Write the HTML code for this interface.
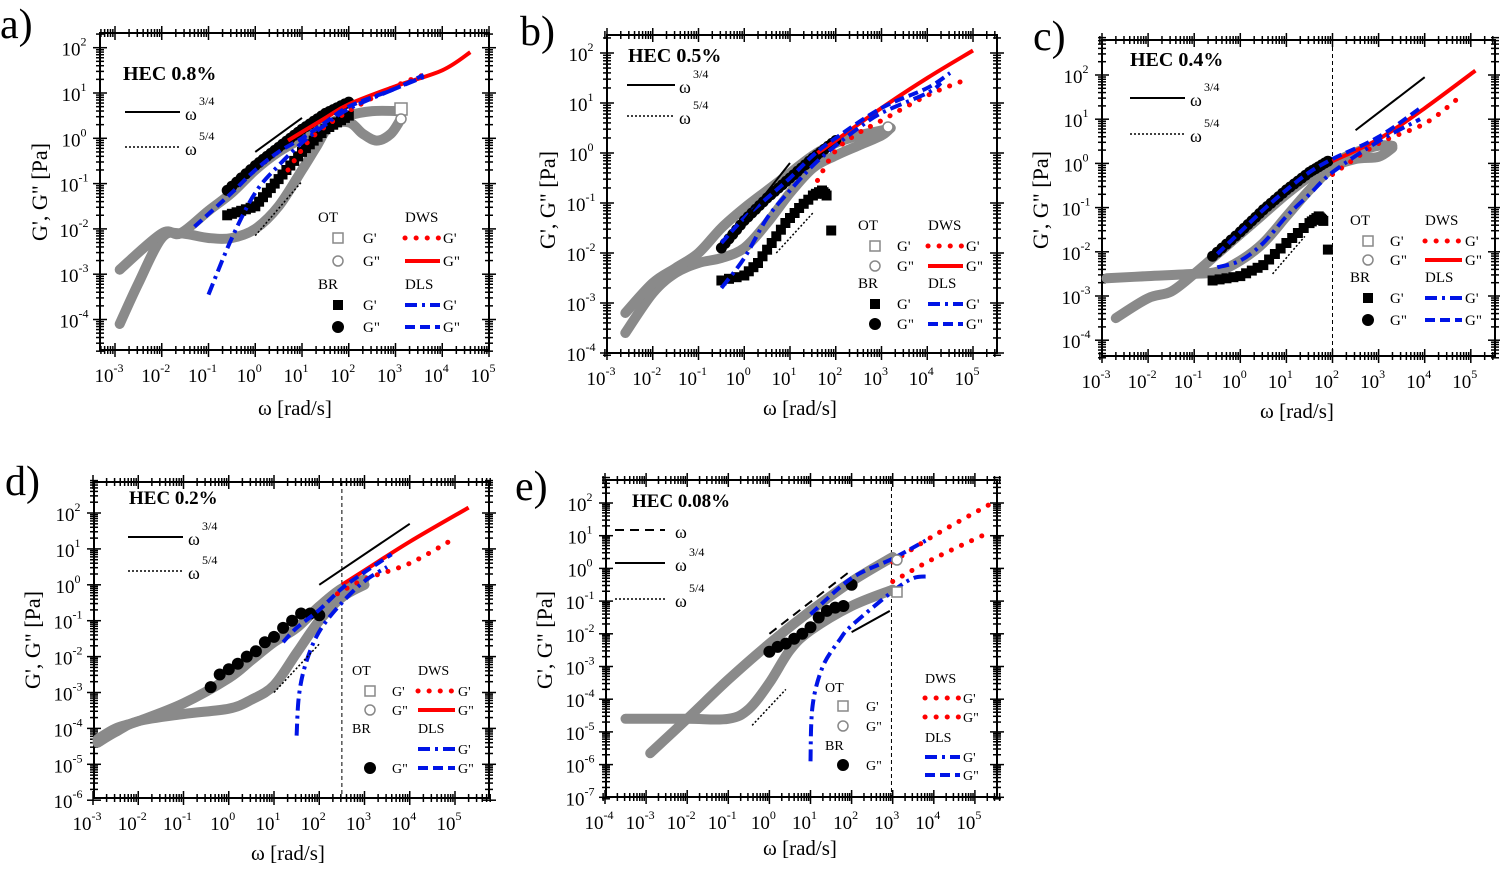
<!DOCTYPE html>
<html><head><meta charset="utf-8">
<style>
html,body{margin:0;padding:0;background:#fff;}
svg{display:block;}
text{font-family:"Liberation Serif","Times New Roman","DejaVu Serif",serif;}
</style></head>
<body>
<svg id="s" width="1500" height="869" viewBox="0 0 1500 869" xmlns="http://www.w3.org/2000/svg" font-family="Liberation Serif, DejaVu Serif, serif"></svg>
<script>
var out=[];
var FF='font-family="Liberation Serif, Times New Roman, DejaVu Serif, serif"';
function T(x,y,t,sz,extra){out.push('<text '+FF+' x="'+x+'" y="'+y+'" font-size="'+sz+'" '+(extra||'')+'>'+t+'</text>');}
function L(x1,y1,x2,y2,st){out.push('<line x1="'+x1+'" y1="'+y1+'" x2="'+x2+'" y2="'+y2+'" '+st+'/>');}
function panel(p){
  var X=function(l){return p.X0+(l-p.x0)*p.dx;}, Y=function(l){return p.Y0-(l-p.y0)*p.dy;};
  p.X=X;p.Y=Y;
  out.push('<rect x="'+p.L+'" y="'+p.T+'" width="'+(p.R-p.L)+'" height="'+(p.B-p.T)+'" fill="none" stroke="#000" stroke-width="2"/>');
  var st='stroke="#000" stroke-width="1.5"';
  var d0=Math.floor(p.x0+(p.L-p.X0)/p.dx)-1, d1=Math.ceil(p.x0+(p.R-p.X0)/p.dx)+1;
  for(var d=d0;d<=d1;d++){for(var k=1;k<10;k++){var x=X(d+Math.log10(k));if(x<p.L-3||x>p.R+3)continue;var m=k==1?7:4;
    L(x,p.B-m,x,p.B+m,st);L(x,p.T-m,x,p.T+m,st);
    if(k==1){T(x-6,p.B+32,'10<tspan font-size="12" dy="-10">'+d+'</tspan>',19,'text-anchor="middle"');}}}
  var e0=Math.floor(p.y0-(p.B-p.Y0)/p.dy)-1, e1=Math.ceil(p.y0+(p.Y0-p.T)/p.dy)+1;
  for(var d=e0;d<=e1;d++){for(var k=1;k<10;k++){var y=Y(d+Math.log10(k));if(y<p.T-3||y>p.B+3)continue;var m=k==1?7:4;
    L(p.L-m,y,p.L+m,y,st);L(p.R-m,y,p.R+m,y,st);
    if(k==1){T(p.L-26,y+8,'10<tspan font-size="12" dy="-10">'+d+'</tspan>',19,'text-anchor="middle"');}}}
  if(p.vline!=null)L(X(p.vline),p.T,X(p.vline),p.B,'stroke="#000" stroke-width="1" stroke-dasharray="4,3"');
}
function smooth(p,a){
  var P=a.map(function(q){return [p.X(q[0]),p.Y(q[1])];});
  var d='M'+P[0][0].toFixed(1)+','+P[0][1].toFixed(1);
  for(var i=0;i<P.length-1;i++){
    var p0=P[i-1]||P[i],p1=P[i],p2=P[i+1],p3=P[i+2]||P[i+1];
    var c1=[p1[0]+(p2[0]-p0[0])/6,p1[1]+(p2[1]-p0[1])/6],c2=[p2[0]-(p3[0]-p1[0])/6,p2[1]-(p3[1]-p1[1])/6];
    d+=' C'+c1[0].toFixed(1)+','+c1[1].toFixed(1)+' '+c2[0].toFixed(1)+','+c2[1].toFixed(1)+' '+p2[0].toFixed(1)+','+p2[1].toFixed(1);
  }
  return d;
}
function poly(p,a,st){out.push('<path fill="none" d="'+smooth(p,a)+'" '+st+'/>');}
var GR='stroke="#8a8a8a" stroke-width="10" stroke-linecap="round" stroke-linejoin="round"';
var RS='stroke="#f00" stroke-width="4"';
var RD='stroke="#f00" stroke-width="5" stroke-linecap="round" stroke-dasharray="0.1,11"';
var BDD='stroke="#0014e6" stroke-width="4" stroke-dasharray="12,5,3,5"';
var BD='stroke="#0014e6" stroke-width="4" stroke-dasharray="10,5"';
function interp(a,n){var r=[];for(var i=0;i<a.length-1;i++){for(var j=0;j<n;j++){var t=j/n;r.push([a[i][0]+(a[i+1][0]-a[i][0])*t,a[i][1]+(a[i+1][1]-a[i][1])*t]);}}r.push(a[a.length-1]);return r;}
function circles(p,a,r,n){interp(a,n).forEach(function(q){out.push('<circle cx="'+p.X(q[0]).toFixed(1)+'" cy="'+p.Y(q[1]).toFixed(1)+'" r="'+r+'" fill="#000"/>');});}
function squares(p,a,s,n){interp(a,n).forEach(function(q){out.push('<rect x="'+(p.X(q[0])-s/2).toFixed(1)+'" y="'+(p.Y(q[1])-s/2).toFixed(1)+'" width="'+s+'" height="'+s+'" fill="#000"/>');});}
function dots(p,a,r){a.forEach(function(q){out.push('<circle cx="'+p.X(q[0]).toFixed(1)+'" cy="'+p.Y(q[1]).toFixed(1)+'" r="'+r+'" fill="#000"/>');});}
function guide(p,a,b,st){L(p.X(a[0]),p.Y(a[1]),p.X(b[0]),p.Y(b[1]),st);}
var GS='stroke="#000" stroke-width="2"', GD='stroke="#000" stroke-width="1.5" stroke-dasharray="2,2"', GDash='stroke="#000" stroke-width="2" stroke-dasharray="9,6"';
function pw(x1,x2,y,st,tx,sup){L(x1,y,x2,y,st);T(tx,y+8,'ω',18);if(sup)T(tx+14,y-7,sup,12);}
function legSym(x,y,type){ if(type=='os')out.push('<rect x="'+(x-5)+'" y="'+(y-5)+'" width="10" height="10" fill="none" stroke="#888" stroke-width="1.5"/>');
 if(type=='oc')out.push('<circle cx="'+x+'" cy="'+y+'" r="5" fill="none" stroke="#888" stroke-width="1.5"/>');
 if(type=='bs')out.push('<rect x="'+(x-5)+'" y="'+(y-5)+'" width="10" height="10" fill="#000"/>');
 if(type=='bc')out.push('<circle cx="'+x+'" cy="'+y+'" r="6" fill="#000"/>');}
function legend(o){
 var s=o.sz||15;
 T(o.ox,o.r[0]-16,'OT',s);T(o.lx,o.r[0]-16,'DWS',s);
 legSym(o.sx,o.r[0],'os');T(o.tx,o.r[0]+5,"G'",s);
 legSym(o.sx,o.r[1],'oc');T(o.tx,o.r[1]+5,'G"',s);
 T(o.ox,o.r[2]-16,'BR',s);T(o.lx,o.r[2]-16,'DLS',s);
 if(o.brBoth){legSym(o.sx,o.r[2],'bs');T(o.tx,o.r[2]+5,"G'",s);}
 legSym(o.sx,o.r[3],'bc');T(o.tx,o.r[3]+5,'G"',s);
 L(o.lx,o.r[0],o.lx2,o.r[0],RD);T(o.lx2+3,o.r[0]+5,"G'",s);
 L(o.lx,o.r[1],o.lx2,o.r[1],RS);T(o.lx2+3,o.r[1]+5,'G"',s);
 L(o.lx,o.r[2],o.lx2,o.r[2],BDD);T(o.lx2+3,o.r[2]+5,"G'",s);
 L(o.lx,o.r[3],o.lx2,o.r[3],BD);T(o.lx2+3,o.r[3]+5,'G"',s);
}
function ylab(x,y){T(x,y,"G', G\" [Pa]",22,'text-anchor="middle" transform="rotate(-90 '+x+' '+y+')"');}
function xlab(x,y){T(x,y,'ω [rad/s]',21,'text-anchor="middle"');}

/* ---------- a ---------- */
var a={L:100,R:489,T:33,B:350,X0:115,x0:-3,dx:46.75,Y0:47.7,y0:2,dy:45.3};
panel(a);
poly(a,[[-2.9,-4.1],[-2.5,-3.2],[-2,-2.2],[-1.6,-2.1],[-1,-2.2],[-0.5,-2.2],[0,-2],[0.5,-1.5],[1,-0.7],[1.3,-0.2],[1.6,0.3],[2,0.5],[2.5,0.6],[3.1,0.6]],GR);
poly(a,[[-2.9,-2.9],[-2,-2.1],[-1.6,-2.1],[-1,-1.6],[-0.5,-1.2],[0,-0.7],[0.5,-0.3],[1,0],[1.5,0.3],[2,0.35],[2.3,0.1],[2.6,-0.05],[2.9,0.1],[3.1,0.4]],GR);
squares(a,[[-0.6,-1.7],[0,-1.5],[0.5,-0.9],[1,-0.3],[1.5,0.2],[2,0.5]],10,6);
circles(a,[[-0.6,-1.15],[0,-0.6],[0.5,-0.2],[1,0.2],[1.5,0.55],[2,0.8]],5.5,6);
poly(a,[[0.7,-0.05],[1.5,0.45],[2,0.75],[3,1.15],[4,1.5],[4.6,1.9]],RS);
poly(a,[[0.7,-0.7],[1,-0.25],[1.3,0.1],[2,0.6],[3,1.15],[3.6,1.4]],RD);
poly(a,[[-1,-3.45],[-0.5,-2.2],[0,-1.2],[0.5,-0.6],[1,-0.1],[1.5,0.3],[2,0.65],[3,1.1],[3.6,1.35]],BDD);
poly(a,[[-1.3,-1.95],[-0.5,-1.2],[0,-0.7],[0.5,-0.3],[1,0],[1.5,0.35],[2,0.7],[3,1.1],[3.6,1.4]],BD);
guide(a,[0,-0.3],[1,0.45],GS);guide(a,[0,-2.15],[1,-0.95],GD);
out.push('<rect x="395" y="103" width="12" height="12" fill="#fff" stroke="#888" stroke-width="1.5"/><circle cx="401" cy="119" r="5" fill="#fff" stroke="#888" stroke-width="1.5"/>');
T(123,80,'HEC 0.8%',20,'font-weight="bold"');
pw(125,180,112,GS,185,'3/4');pw(125,180,147,GD,185,'5/4');
legend({ox:318,lx:405,lx2:440,sx:338,tx:363,r:[238,261,305,327],brBoth:true});
T(0,38,'a)',42);ylab(47,192);xlab(295,415);

/* ---------- b ---------- */
var b={L:607,R:997,T:35,B:353,X0:607,x0:-3,dx:45.75,Y0:53,y0:2,dy:50};
panel(b);
poly(b,[[-2.6,-3.6],[-2,-2.8],[-1.5,-2.4],[-1,-2.2],[-0.5,-2.1],[0,-1.9],[0.5,-1.4],[1,-0.8],[1.5,-0.3],[2,-0.05],[2.5,0.15],[3,0.35],[3.2,0.5]],GR);
poly(b,[[-2.6,-3.2],[-2,-2.6],[-1.5,-2.3],[-1,-2],[-0.5,-1.5],[0,-1.1],[0.5,-0.75],[1,-0.4],[1.5,-0.05],[2,0.2],[2.5,0.35],[3,0.45],[3.2,0.5]],GR);
squares(b,[[-0.5,-2.55],[0,-2.45],[0.3,-2.2],[0.6,-1.8],[0.9,-1.4],[1.2,-1.1],[1.5,-0.85],[1.7,-0.75],[1.8,-0.85]],10,3);
squares(b,[[1.9,-1.55]],10,1);
circles(b,[[-0.5,-1.9],[0,-1.35],[0.5,-0.9],[1,-0.5],[1.5,-0.1],[2,0.25]],5.5,6);
poly(b,[[1.6,0],[2,0.25],[3,0.9],[4,1.5],[5,2.05]],RS);
poly(b,[[1.6,-0.55],[2,0.05],[2.5,0.4],[3,0.65],[4,1.15],[4.8,1.45]],RD);
poly(b,[[-0.5,-2.7],[0,-2.1],[0.5,-1.3],[1,-0.75],[1.5,-0.25],[2,0.15],[2.5,0.5],[3,0.8],[4,1.2],[4.3,1.4]],BDD);
poly(b,[[-0.5,-1.8],[0,-1.3],[0.5,-0.9],[1,-0.5],[1.5,-0.05],[2,0.3],[3,0.9],[4,1.3],[4.5,1.6]],BD);
guide(b,[0,-1.35],[1,-0.2],GS);guide(b,[0.7,-2.0],[1.5,-1.2],GD);
out.push('<circle cx="888" cy="127" r="5" fill="#fff" stroke="#888" stroke-width="1.5"/>');
T(628,62,'HEC 0.5%',20,'font-weight="bold"');
pw(627,675,85,GS,679,'3/4');pw(627,675,116,GD,679,'5/4');
legend({ox:858,lx:928,lx2:963,sx:875,tx:897,r:[246,266,304,324],brBoth:true});
T(520,45,'b)',42);ylab(555,200);xlab(800,415);

/* ---------- c ---------- */
var c={L:1102,R:1495,T:40,B:356,X0:1102,x0:-3,dx:46.1,Y0:75,y0:2,dy:44.2,vline:2};
panel(c);
poly(c,[[-2.9,-2.6],[-2,-2.55],[-1,-2.5],[-0.5,-2.45],[0,-2.2],[0.5,-1.8],[1,-1.2],[1.5,-0.6],[2,-0.1],[2.5,0.1],[3,0.15],[3.3,0.35]],GR);
poly(c,[[-2.7,-3.5],[-2,-3.05],[-1.5,-2.9],[-1,-2.5],[-0.5,-2.05],[0,-1.6],[0.5,-1.15],[1,-0.7],[1.5,-0.3],[2,0],[2.5,0.25],[3,0.4],[3.3,0.4]],GR);
squares(c,[[-0.6,-2.65],[0,-2.55],[0.5,-2.3],[1,-1.8],[1.5,-1.35],[1.7,-1.2],[1.8,-1.3]],10,4);
squares(c,[[1.9,-1.95]],10,1);
circles(c,[[-0.6,-2.1],[0,-1.55],[0.5,-1.05],[1,-0.6],[1.5,-0.2],[1.9,0.05]],5.5,6);
poly(c,[[2,0.05],[3,0.55],[4,1.25],[5.1,2.1]],RS);
poly(c,[[2,-0.25],[3,0.45],[4,0.9],[4.7,1.45]],RD);
poly(c,[[-0.5,-2.35],[0,-2.2],[0.5,-1.8],[1,-1.2],[1.5,-0.7],[2,-0.2],[3,0.5],[3.9,1.0]],BDD);
poly(c,[[-0.5,-2.05],[0,-1.55],[0.5,-1.05],[1,-0.6],[1.5,-0.2],[2,0.1],[3,0.6],[3.9,1.25]],BD);
guide(c,[2.5,0.75],[4,1.95],GS);guide(c,[0.7,-2.5],[1.4,-1.65],GD);
T(1130,66,'HEC 0.4%',20,'font-weight="bold"');
pw(1130,1185,98,GS,1190,'3/4');pw(1130,1185,134,GD,1190,'5/4');
legend({ox:1350,lx:1425,lx2:1462,sx:1368,tx:1390,r:[241,260,298,320],brBoth:true});
T(1033,50,'c)',42);ylab(1048,200);xlab(1297,418);

/* ---------- d ---------- */
var dd={L:94,R:489,T:482,B:798,X0:93,x0:-3,dx:45.25,Y0:513,y0:2,dy:35.9,vline:2.5};
panel(dd);
poly(dd,[[-2.9,-4.3],[-2.5,-4],[-2,-3.8],[-1,-3.3],[0,-2.6],[0.5,-2.1],[1,-1.6],[1.5,-1.2],[2,-0.6],[2.5,-0.1],[3,0.15]],GR);
poly(dd,[[-2.9,-4.4],[-2.5,-4.1],[-2,-3.8],[-1,-3.6],[0,-3.45],[0.5,-3.2],[1,-2.8],[1.5,-1.9],[2,-1.0],[2.5,-0.35],[3,0.0]],GR);
dots(dd,[[-0.4,-2.85],[-0.2,-2.5],[0,-2.35],[0.2,-2.2],[0.4,-2],[0.6,-1.85],[0.8,-1.6],[1,-1.45],[1.2,-1.2],[1.4,-1.0],[1.6,-0.8],[1.8,-0.8],[2,-0.85]],6);
poly(dd,[[2.5,0],[3,0.4],[4,1.2],[5.3,2.15]],RS);
poly(dd,[[2.4,-0.25],[3,0.15],[4,0.6],[5,1.3]],RD);
poly(dd,[[1.5,-4.2],[1.55,-3.1],[1.7,-2.2],[2,-1.3],[2.5,-0.5],[3,0.1],[3.5,0.5]],BDD);
poly(dd,[[1.2,-1.6],[1.5,-1.2],[2,-0.7],[2.5,-0.1],[3,0.35],[3.6,0.85]],BD);
guide(dd,[2,0],[4,1.7],GS);guide(dd,[1,-3.0],[2,-1.65],GD);
T(129,504,'HEC 0.2%',19,'font-weight="bold"');
pw(128,183,537,GS,188,'3/4');pw(128,183,571,GD,188,'5/4');
legend({ox:352,lx:418,lx2:455,sx:370,tx:392,r:[691,710,749,768],sz:14});
T(5,495,'d)',42);ylab(40,640);xlab(288,860);

/* ---------- e ---------- */
var e={L:606,R:997,T:480,B:797,X0:605,x0:-4,dx:41.1,Y0:503,y0:2,dy:32.7,vline:2.97};
panel(e);
poly(e,[[-2.9,-5.65],[-2,-4.6],[-1,-3.4],[0,-2.3],[1,-1.3],[2,-0.4],[3,0.35]],GR);
poly(e,[[-3.5,-4.6],[-2,-4.6],[-1,-4.6],[-0.5,-4.3],[0,-3.5],[0.5,-2.5],[1,-1.9],[2,-1.15],[3,-0.65]],GR);
dots(e,[[0,-2.55],[0.2,-2.4],[0.4,-2.3],[0.6,-2.15],[0.8,-2],[1,-1.8],[1.2,-1.5],[1.4,-1.3],[1.6,-1.2],[1.8,-1.15],[2,-0.5]],6);
poly(e,[[3,0.2],[4,1.0],[5.35,1.95]],RD);
poly(e,[[3,-0.4],[4,0.3],[5.35,1.1]],RD);
poly(e,[[1,-1.4],[2,-0.3],[3,0.3],[3.8,0.85]],BD);
poly(e,[[1,-5.9],[1.05,-4.2],[1.3,-3],[1.7,-2.2],[2,-1.75],[3,-0.7],[3.5,-0.3],[3.9,-0.25]],BDD);
guide(e,[0,-2.0],[2,-0.05],GDash);guide(e,[2,-1.95],[2.93,-1.3],GS);guide(e,[-0.42,-4.8],[0.4,-3.7],GD);
out.push('<circle cx="897" cy="560" r="5" fill="#fff" stroke="#888" stroke-width="1.5"/><rect x="892" y="587" width="10" height="10" fill="#fff" stroke="#888" stroke-width="1.5"/>');
T(632,507,'HEC 0.08%',19,'font-weight="bold"');
pw(615,665,530,GDash,675,null);pw(615,665,563,GS,675,'3/4');pw(615,665,599,GD,675,'5/4');
var s=14;
T(825,692,'OT',s);legSym(843,706,'os');T(866,711,"G'",s);legSym(843,726,'oc');T(866,731,'G"',s);
T(825,750,'BR',s);legSym(843,765,'bc');T(866,770,'G"',s);
T(925,683,'DWS',s);L(925,698,960,698,RD);T(963,703,"G'",s);L(925,717,960,717,RD);T(963,722,'G"',s);
T(925,742,'DLS',s);L(925,757,960,757,BDD);T(963,762,"G'",s);L(925,775,960,775,BD);T(963,780,'G"',s);
T(515,500,'e)',42);ylab(552,640);xlab(800,855);

document.getElementById('s').innerHTML=out.join('');
</script>
</body></html>
